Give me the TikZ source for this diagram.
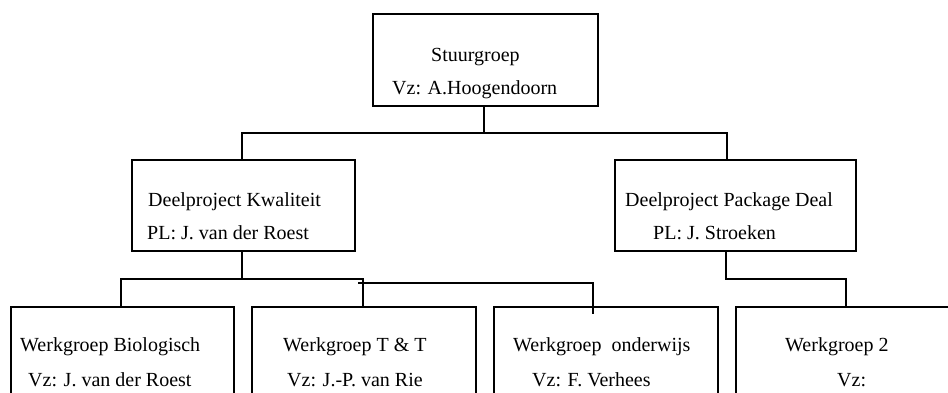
\documentclass[tikz,border=0pt]{standalone}
\usepackage{fontspec}
\setmainfont{Liberation Serif}
\begin{document}
\begin{tikzpicture}[x=1pt,y=-1pt,
  box/.style={draw,line width=1.5pt,rectangle,inner sep=0pt,outer sep=0pt},
  lbl/.style={anchor=base west,inner sep=0pt,font=\fontsize{20}{24}\selectfont},
  conn/.style={line width=1.5pt}]
\clip (0,0) rectangle (948,392);
% boxes
\node[box,minimum width=225pt,minimum height=92pt] (top) at (485.5,60) {};
\node[box,minimum width=223pt,minimum height=91pt] (kw) at (243.5,205.5) {};
\node[box,minimum width=241pt,minimum height=91pt] (pd) at (735.5,205.5) {};
\node[box,minimum width=223pt,minimum height=113pt] (b1) at (122.5,363.5) {};
\node[box,minimum width=224pt,minimum height=113pt] (b2) at (364,363.5) {};
\node[box,minimum width=224pt,minimum height=113pt] (b3) at (606,363.5) {};
\node[box,minimum width=244pt,minimum height=113pt] (b4) at (858,363.5) {};
% texts
\node[lbl] (t1) at (431,61) {Stuurgroep};
\node[lbl] (t2) at (392,94) {Vz: A.Hoogendoorn};
\node[lbl] (t3) at (148,206) {Deelproject Kwaliteit};
\node[lbl] (t4) at (147,239) {PL: J. van der Roest};
\node[lbl] (t5) at (625,206) {Deelproject Package Deal};
\node[lbl] (t6) at (653,239) {PL: J. Stroeken};
\node[lbl] (t7) at (20,351) {Werkgroep Biologisch};
\node[lbl] (t8) at (28,386) {Vz: J. van der Roest};
\node[lbl] (t9) at (283,351) {Werkgroep T \& T};
\node[lbl] (t10) at (287,386) {Vz: J.-P. van Rie};
\node[lbl] (t11) at (513,351) {Werkgroep\ \ onderwijs};
\node[lbl] (t12) at (532,386) {Vz: F. Verhees};
\node[lbl] (t13) at (785,351) {Werkgroep 2};
\node[lbl] (t14) at (837,386) {Vz:};
% connectors top level
\coordinate (s0) at (484,133);
\coordinate (hL) at (242,133);
\coordinate (hR) at (727,133);
\draw[conn] (top.south -| s0) -- (s0);
\draw[conn] (kw.north -| hL) -- (hL) -- (hR) -- (pd.north -| hR);
% lower left
\coordinate (k1) at (242,279);
\coordinate (a1) at (121,279);
\coordinate (a2) at (363,279);
\draw[conn] (kw.south -| k1) -- (k1);
\draw[conn] (b1.north -| a1) -- (a1) -- (a2) -- (b2.north -| a2);
\coordinate (c1) at (358,283);
\coordinate (c2) at (593,283);
\coordinate (c3) at (593,314);
\draw[conn] (c1) -- (c2) -- (c3);
% lower right
\coordinate (p1) at (726,279);
\coordinate (p2) at (846,279);
\draw[conn] (pd.south -| p1) -- (p1) -- (p2) -- (b4.north -| p2);
\end{tikzpicture}
\end{document}
